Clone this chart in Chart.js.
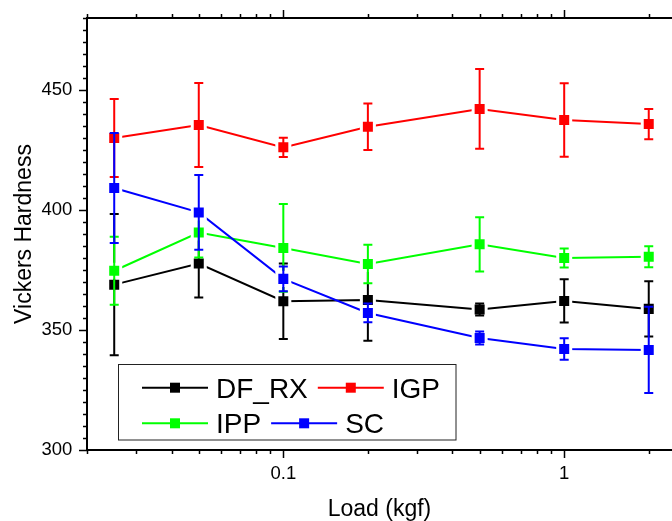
<!DOCTYPE html>
<html>
<head>
<meta charset="utf-8">
<script src="https://cdn.jsdelivr.net/npm/chart.js@4.4.1/dist/chart.umd.min.js"></script>
<style>
  html, body { margin: 0; padding: 0; background: #fff; overflow: hidden; }
  canvas { display: block; }
</style>
</head>
<body>
<canvas id="c" width="672" height="521"></canvas>
<script>
// ---- data ----
const loads = [0.025, 0.05, 0.1, 0.2, 0.5, 1, 2];

const dfrx    = [368.9, 377.7, 362.0, 362.5, 358.5, 362.1, 358.8];
const dfrxErr = [29.4, 14.2, 15.7, 17.0, 2.5, 9.0, 11.5];

const igp    = [430.0, 435.4, 426.1, 434.7, 442.1, 437.5, 435.8];
const igpErr = [16.3, 17.5, 4.0, 9.7, 16.6, 15.3, 6.3];

const ipp    = [374.7, 390.6, 384.2, 377.5, 385.7, 380.0, 380.5];
const ippErr = [14.2, 10.4, 18.3, 8.0, 11.3, 4.0, 4.4];

const sc    = [409.2, 399.0, 371.3, 357.1, 346.7, 342.1, 341.7];
const scErr = [22.9, 15.6, 5.2, 3.9, 2.7, 4.5, 18.0];

const seriesNames  = ['DF_RX', 'IGP', 'IPP', 'SC'];
const seriesColors = ['#000000', '#ff0000', '#00ff00', '#0000ff'];
const yTickLabels  = [300, 350, 400, 450];
const xTickLabels  = [0.1, 1];

const xAxisTitle = 'Load (kgf)';
const yAxisTitle = 'Vickers Hardness';

const FONT = "'Liberation Sans', Arial, Helvetica, sans-serif";

function makeDataset(label, values, errors, color, order) {
  return {
    label: label,
    data: values.map((v, i) => ({ x: loads[i], y: v })),
    errors: errors,
    borderColor: color,
    backgroundColor: color,
    borderWidth: 2,
    tension: 0,
    pointStyle: 'rect',
    pointRadius: 9.2,
    pointHoverRadius: 9.2,
    pointBorderWidth: 3,
    pointBorderColor: '#ffffff',
    pointBackgroundColor: color,
    order: order,
    clip: false
  };
}

// error bars, drawn right after each dataset
const errorBarPlugin = {
  id: 'errorBars',
  afterDatasetDraw(chart, args) {
    const ds = chart.data.datasets[args.index];
    if (!ds.errors) return;
    const ctx = chart.ctx;
    const xs = chart.scales.x, ys = chart.scales.y;
    ctx.save();
    ctx.strokeStyle = ds.borderColor;
    ctx.lineWidth = 2;
    ds.data.forEach((p, i) => {
      const e = ds.errors[i];
      const x = xs.getPixelForValue(p.x);
      const yt = ys.getPixelForValue(p.y + e);
      const yb = ys.getPixelForValue(p.y - e);
      ctx.beginPath();
      ctx.moveTo(x, yt); ctx.lineTo(x, yb);
      ctx.moveTo(x - 4.5, yt); ctx.lineTo(x + 4.5, yt);
      ctx.moveTo(x - 4.5, yb); ctx.lineTo(x + 4.5, yb);
      ctx.stroke();
    });
    ctx.restore();
  }
};

// axis lines and tick marks (major / minor), positions from the chart's scales
const axesPlugin = {
  id: 'axesTicks',
  afterDraw(chart) {
    const ctx = chart.ctx;
    const a = chart.chartArea;
    const xs = chart.scales.x, ys = chart.scales.y;
    ctx.save();
    ctx.strokeStyle = '#000';
    ctx.lineWidth = 2;
    ctx.beginPath();
    ctx.moveTo(a.left, a.bottom); ctx.lineTo(a.right + 2, a.bottom);
    ctx.moveTo(a.left, a.top); ctx.lineTo(a.right + 2, a.top);
    ctx.moveTo(a.left, a.top - 1); ctx.lineTo(a.left, a.bottom + 1);
    ctx.stroke();
    ctx.lineWidth = 1.5;
    ctx.beginPath();
    // x ticks (log decades)
    for (let ex = -2; ex <= 0; ex++) {
      for (let m = 1; m <= 9; m++) {
        const v = m * Math.pow(10, ex);
        if (v < xs.min - 1e-9 || v > xs.max) continue;
        const px = Math.round(xs.getPixelForValue(v)) + 0.5;
        const len = (m === 1) ? 8 : 4;
        ctx.moveTo(px, a.bottom); ctx.lineTo(px, a.bottom + len);
        ctx.moveTo(px, a.top); ctx.lineTo(px, a.top - len);
      }
    }
    // y ticks
    for (let v = ys.min; v <= ys.max; v += 5) {
      const py = Math.round(ys.getPixelForValue(v)) + 0.5;
      const len = (v % 50 === 0) ? 8 : 4;
      ctx.moveTo(a.left, py); ctx.lineTo(a.left - len, py);
    }
    ctx.stroke();
    ctx.restore();
  }
};

// legend: boxed, two rows, line + square symbols
const legendPlugin = {
  id: 'boxLegend',
  afterDraw(chart) {
    const ctx = chart.ctx;
    const box = { x: 118.5, y: 364.5, w: 337.5, h: 75.5 };
    const rows = [[0, 1], [2, 3]];
    const rowCenters = [387.7, 423.3];
    ctx.save();
    ctx.fillStyle = '#fff';
    ctx.fillRect(box.x, box.y, box.w, box.h);
    ctx.strokeStyle = '#222';
    ctx.lineWidth = 1;
    ctx.strokeRect(box.x, box.y, box.w, box.h);
    ctx.font = '28px ' + FONT;
    ctx.textBaseline = 'alphabetic';
    ctx.textAlign = 'left';
    rows.forEach((row, r) => {
      let x = 142;
      const cy = rowCenters[r];
      row.forEach((idx) => {
        const col = seriesColors[idx];
        ctx.strokeStyle = col;
        ctx.lineWidth = 2;
        ctx.beginPath();
        ctx.moveTo(x, cy); ctx.lineTo(x + 66, cy);
        ctx.stroke();
        ctx.fillStyle = col;
        ctx.fillRect(x + 33 - 5, cy - 5, 10, 10);
        ctx.fillStyle = '#000';
        const tx = x + 74;
        ctx.fillText(seriesNames[idx], tx, cy + 9.8);
        x = tx + ctx.measureText(seriesNames[idx]).width + 10;
      });
    });
    ctx.restore();
  }
};

function zeroPadding(s) {
  s.paddingLeft = 0; s.paddingRight = 0; s.paddingTop = 0; s.paddingBottom = 0;
}

const tickFont = { family: FONT, size: 18.5 };

new Chart(document.getElementById('c'), {
  type: 'line',
  data: {
    datasets: [
      makeDataset(seriesNames[0], dfrx, dfrxErr, seriesColors[0], 4),
      makeDataset(seriesNames[1], igp, igpErr, seriesColors[1], 3),
      makeDataset(seriesNames[2], ipp, ippErr, seriesColors[2], 2),
      makeDataset(seriesNames[3], sc, scErr, seriesColors[3], 1)
    ]
  },
  options: {
    responsive: false,
    animation: false,
    events: [],
    layout: { autoPadding: false, padding: { top: 18, right: 0, bottom: 0, left: 0 } },
    plugins: { legend: { display: false }, tooltip: { enabled: false } },
    scales: {
      x: {
        type: 'logarithmic',
        min: 0.02,
        max: 2.42,
        grid: { display: false, drawTicks: false },
        border: { display: false },
        ticks: {
          autoSkip: false,
          maxRotation: 0,
          minRotation: 0,
          padding: 13,
          color: '#000',
          font: tickFont,
          callback: function (v) {
            const hit = xTickLabels.find(t => Math.abs(Math.log10(v) - Math.log10(t)) < 1e-6);
            return hit !== undefined ? String(hit) : '';
          }
        },
        title: {
          display: true,
          text: xAxisTitle,
          color: '#000',
          font: { family: FONT, size: 23, lineHeight: 1 },
          padding: { top: 0, bottom: 0 }
        },
        afterFit(s) { s.height = 71; zeroPadding(s); }
      },
      y: {
        min: 300,
        max: 480,
        grid: { display: false, drawTicks: false },
        border: { display: false },
        ticks: {
          stepSize: 50,
          autoSkip: false,
          padding: 14.7,
          color: '#000',
          font: tickFont,
          callback: function (v) {
            return yTickLabels.includes(v) ? String(v) : '';
          }
        },
        title: {
          display: true,
          text: yAxisTitle,
          color: '#000',
          font: { family: FONT, size: 23, lineHeight: 1 },
          padding: { top: 13, bottom: 0 }
        },
        afterFit(s) { s.width = 87; zeroPadding(s); }
      }
    }
  },
  plugins: [errorBarPlugin, axesPlugin, legendPlugin]
});
</script>
</body>
</html>
